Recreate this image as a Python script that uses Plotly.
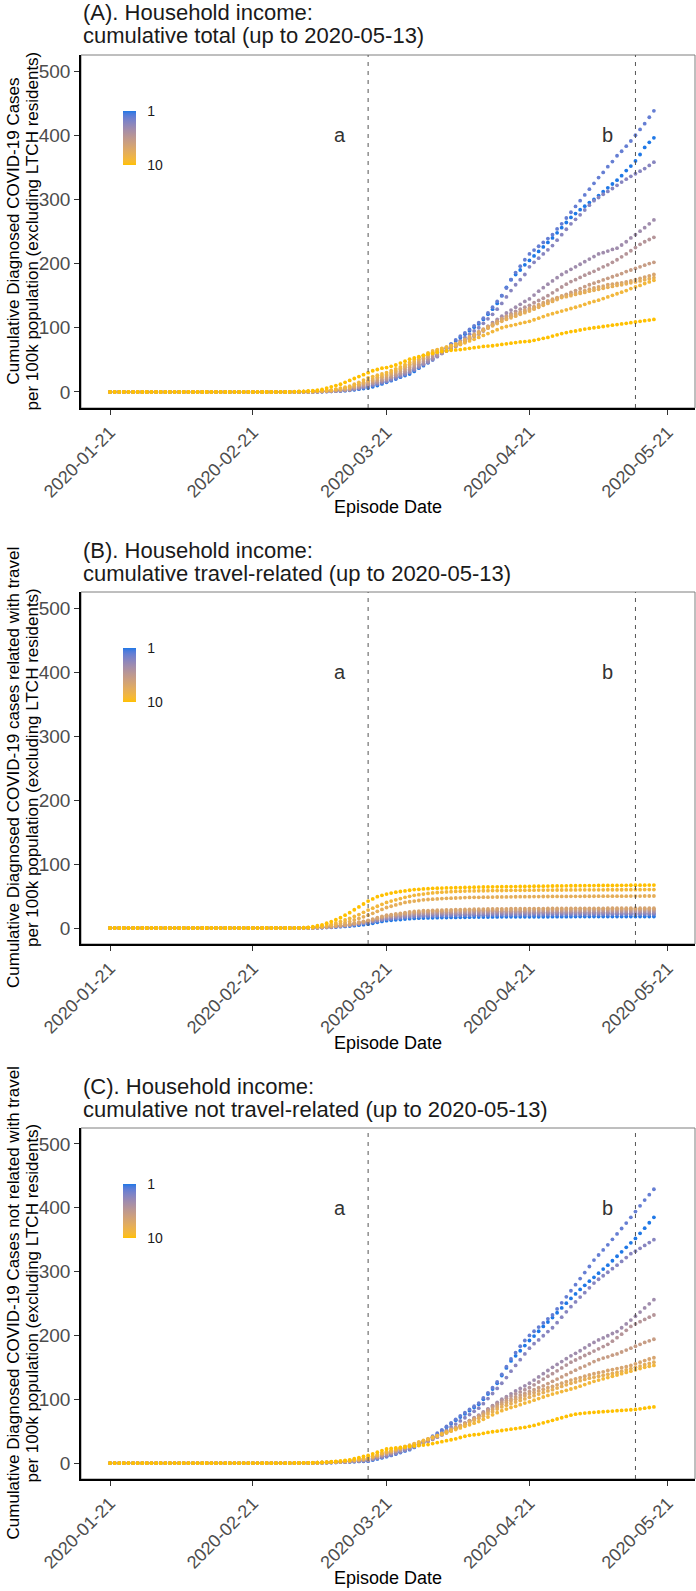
import plotly.graph_objects as go
import pandas as pd

# ---------------- data ----------------
dates = pd.date_range("2020-01-21", "2020-05-18", freq="D")
tick_dates = ["2020-01-21", "2020-02-21", "2020-03-21", "2020-04-21", "2020-05-21"]
y_ticks = [0, 100, 200, 300, 400, 500]
deciles = list(range(1, 11))
line_a_date = "2020-03-17"
line_b_date = "2020-05-14"
label_a_date = "2020-03-11"
label_b_date = "2020-05-08"

# Jan 21 - Feb 27: all series at zero
early = [0, 0, 0, 0, 0, 0, 0, 0, 0, 0,
         0, 0, 0, 0, 0, 0, 0, 0, 0, 0,
         0, 0, 0, 0, 0, 0, 0, 0, 0, 0,
         0, 0, 0, 0, 0, 0, 0, 0]

# ---- Panel A: cumulative total (values from Feb 28 to May 18) ----
A1 = early + [0, 0, 0, 0.1, 0.1, 0.2, 0.3, 0.4, 0.6, 0.8,
              1, 1.3, 1.6, 2, 2.5, 3.4, 4.3, 5.2, 6, 8,
              10, 12.5, 15, 17.5, 20, 23, 25.5, 28, 32, 37,
              41, 45.5, 50, 56, 62, 68, 74, 79.5, 85, 90,
              95.5, 101, 106, 113, 121, 129, 138, 150, 163, 175,
              183, 190, 198, 205, 212, 219, 226, 233, 240, 248,
              256, 264, 272, 278, 284, 289.5, 295, 300, 306, 312,
              318, 324, 330, 337, 345, 352, 360, 370, 381, 389,
              396]
A2 = early + [0, 0, 0, 0.1, 0.1, 0.2, 0.3, 0.5, 0.7, 0.9,
              1.1, 1.5, 1.9, 2.4, 3, 4, 5, 6.5, 8, 10,
              12, 14, 16, 18.5, 21, 24, 27, 30, 34, 38.5,
              43, 47.5, 52, 57.5, 63, 69, 75, 81, 87, 92,
              97.5, 103, 108, 115, 123, 132, 141, 150, 162, 175,
              186, 196, 206, 215, 221, 227, 233, 239, 245, 254,
              262, 271, 280, 289, 298, 307, 316, 325, 334, 342,
              351, 359, 368, 375, 383, 391, 400, 409, 418, 428,
              438]
A3 = early + [0, 0, 0, 0.1, 0.1, 0.2, 0.3, 0.4, 0.6, 0.8,
              1, 1.5, 2, 2.5, 3, 4.5, 6, 7.5, 9, 11,
              13, 15, 17, 20, 23, 25.5, 28, 31, 35, 39,
              42.5, 46, 50, 55, 60, 65, 70, 75, 80, 85,
              90, 95, 100, 107, 114, 121, 129, 138, 148, 158,
              167, 175, 183, 195, 202, 208.5, 215, 221.5, 228, 236.5,
              245, 253.5, 262, 269, 276, 283.5, 291, 298, 303, 308,
              312.5, 317, 322, 327, 331.5, 336, 340, 344, 348, 353,
              358]
A4 = early + [0, 0, 0.1, 0.1, 0.2, 0.3, 0.4, 0.6, 0.8, 1,
              1.3, 1.8, 2.3, 2.9, 3.5, 5.3, 7, 9, 11, 13,
              15, 17, 19, 22, 25, 27.5, 30, 33, 37, 41,
              44.5, 48, 52, 56, 60, 63.5, 67, 71, 75, 79,
              83.5, 88, 92, 97, 102, 108, 113, 118, 123, 127.5,
              132, 136.5, 141, 145, 151, 157, 162.5, 168, 173, 178,
              183, 187, 191, 195, 199, 203, 207, 211, 215, 217,
              219.5, 222, 224, 229, 234, 240, 245, 250.5, 256, 262,
              268]
A5 = early + [0, 0, 0.1, 0.2, 0.3, 0.4, 0.5, 0.7, 0.9, 1.2,
              1.5, 2, 2.6, 3.3, 4, 6, 8, 10, 12, 14,
              16, 18, 20, 23, 26, 29, 32, 35, 39, 43,
              47, 51, 55, 58, 61, 64.5, 68, 71, 74, 78,
              82, 86, 90, 95, 100, 105, 110, 115, 118.5, 122,
              125.5, 129, 132, 135, 139, 142.5, 146, 150, 154.5, 159,
              163.5, 168, 172, 175, 178.5, 182, 185, 188, 191.5, 195,
              198, 202, 206, 210.5, 215, 220, 225, 230, 234, 237.5,
              241]
A6 = early + [0, 0, 0.1, 0.2, 0.3, 0.4, 0.5, 0.8, 1.1, 1.4,
              1.8, 2.5, 3.2, 4, 5, 7, 9.5, 12, 14, 16,
              18, 20, 22, 25, 28, 31.5, 35, 38, 42, 46,
              50, 54, 58, 61, 64, 67, 70, 73, 76, 80,
              84, 88, 92, 96, 100, 104, 108, 112, 115, 117.5,
              120, 122.5, 125.5, 128, 131, 134, 137, 140, 143, 146,
              149, 152, 155, 158, 161, 164, 167, 169.5, 172, 174.5,
              177, 179.5, 182, 184.5, 187.5, 190, 192.5, 195, 197.5, 200,
              202]
A7 = early + [0, 0, 0.1, 0.2, 0.4, 0.5, 0.7, 1, 1.3, 1.6,
              2, 3, 4, 5, 6, 8.5, 11, 13.5, 16, 18,
              20.5, 23, 25, 28, 31, 34.5, 38, 41, 44.5, 48.5,
              52.5, 56, 60, 63, 66, 69, 72, 75, 78, 82,
              86, 90, 94, 98, 102, 106, 110, 114, 117, 119.5,
              122, 124.5, 127.5, 130, 133, 136, 139, 142, 144.5, 147,
              149.5, 151, 152, 154, 156, 158, 160, 162, 163.5, 165,
              167, 168, 169, 170, 171.5, 173, 175, 177, 179, 181,
              183]
A8 = early + [0, 0, 0.2, 0.3, 0.5, 0.6, 0.8, 1.2, 1.6, 2,
              2.5, 3.5, 4.5, 5.8, 7, 9.5, 12, 15, 18, 20.5,
              23, 25, 27, 30, 33, 36.5, 40, 43, 47, 51,
              55, 58.5, 62, 65, 67.5, 70, 72.5, 75, 77, 80.5,
              84.5, 88, 92, 96, 99.5, 103, 106.5, 110, 113, 115.5,
              118, 121, 123.5, 126, 129, 132, 135, 138, 141, 144,
              147, 148.5, 150, 152, 153.5, 155, 157, 158.5, 160, 161.5,
              163, 164.5, 166, 167, 168.5, 170, 171.5, 173, 175, 176.5,
              178]
A9 = early + [0, 0, 0.2, 0.4, 0.6, 0.8, 1, 1.5, 2, 2.5,
              3, 4.5, 6, 7.5, 9, 12, 15, 18.5, 22, 24,
              26, 28, 30, 33, 36, 39, 42.5, 46, 50, 54,
              57, 61, 64, 66, 68, 70, 71.5, 73, 74, 76.5,
              79.5, 82, 85, 88, 91, 94, 97, 100, 102, 103.5,
              105, 107, 108.5, 110, 112.5, 115, 117.5, 120, 122, 124,
              126, 128, 130, 132, 134, 136.5, 139, 141, 143, 145.5,
              148, 150.5, 153, 155.5, 158, 161, 163.5, 166, 169, 171.5,
              174]
A10 = early + [0, 0.2, 0.5, 0.8, 1, 1.5, 2, 3, 4, 6,
               8, 10, 12, 15, 18, 21, 24, 27, 30, 33,
               35, 37, 38, 40, 42, 45, 48, 51, 53, 55,
               57, 59, 60, 62, 63, 64, 65, 65.5, 66, 67,
               68, 69, 70, 71, 71.5, 72, 73, 74, 75, 76,
               77, 78, 78.5, 79, 80.5, 82, 83.5, 85, 87, 89,
               91, 92.5, 94, 95, 96.5, 98, 99, 100, 101, 102,
               103, 104, 105, 106, 107, 108, 109, 110, 111, 112,
               113]

# ---- Panel B: cumulative travel-related ----
B1 = early + [0, 0, 0, 0, 0.1, 0.1, 0.2, 0.4, 0.6, 0.9,
              1.2, 1.6, 2, 2.5, 3, 3.7, 4.4, 5.2, 6, 7.4,
              8.8, 10.2, 11.5, 12.1, 12.7, 13.3, 13.9, 14.5, 14.9, 15.3,
              15.6, 15.8, 16, 16.1, 16.3, 16.4, 16.5, 16.6, 16.7, 16.8,
              16.9, 17, 17.1, 17.2, 17.2, 17.3, 17.3, 17.4, 17.4, 17.4,
              17.5, 17.5, 17.5, 17.5, 17.6, 17.6, 17.6, 17.6, 17.7, 17.7,
              17.7, 17.7, 17.7, 17.8, 17.8, 17.8, 17.8, 17.8, 17.8, 17.9,
              17.9, 17.9, 17.9, 17.9, 17.9, 17.9, 18, 18, 18, 18,
              18]
B2 = early + [0, 0, 0, 0.1, 0.1, 0.2, 0.3, 0.5, 0.8, 1.2,
              1.6, 2.1, 2.7, 3.3, 4, 5, 6, 7, 8, 9.4,
              10.8, 12.2, 13.5, 14.2, 14.9, 15.5, 16.3, 17, 17.5, 17.9,
              18.3, 18.5, 18.7, 18.8, 19, 19.1, 19.3, 19.4, 19.5, 19.6,
              19.7, 19.9, 20, 20.1, 20.1, 20.2, 20.2, 20.3, 20.3, 20.3,
              20.4, 20.4, 20.4, 20.5, 20.5, 20.5, 20.5, 20.6, 20.6, 20.6,
              20.6, 20.7, 20.7, 20.7, 20.7, 20.7, 20.8, 20.8, 20.8, 20.8,
              20.8, 20.9, 20.9, 20.9, 20.9, 20.9, 21, 21, 21, 21,
              21]
B3 = early + [0, 0, 0, 0.1, 0.1, 0.2, 0.4, 0.6, 0.9, 1.3,
              1.7, 2.3, 3, 3.7, 4.4, 5.5, 6.6, 7.7, 8.8, 10.3,
              11.8, 13.3, 14.8, 15.6, 16.3, 17, 17.8, 18.6, 19.1, 19.6,
              20, 20.3, 20.5, 20.6, 20.8, 21, 21.1, 21.2, 21.4, 21.5,
              21.6, 21.8, 21.9, 22, 22, 22.1, 22.2, 22.2, 22.3, 22.3,
              22.3, 22.4, 22.4, 22.4, 22.5, 22.5, 22.5, 22.6, 22.6, 22.6,
              22.6, 22.7, 22.7, 22.7, 22.7, 22.8, 22.8, 22.8, 22.8, 22.8,
              22.9, 22.9, 22.9, 22.9, 22.9, 22.9, 23, 23, 23, 23,
              23]
B4 = early + [0, 0, 0, 0.1, 0.1, 0.2, 0.4, 0.6, 1, 1.4,
              1.9, 2.6, 3.2, 4, 4.8, 6, 7.2, 8.4, 9.6, 11.2,
              12.9, 14.5, 16.1, 17, 17.8, 18.5, 19.4, 20.2, 20.8, 21.3,
              21.8, 22, 22.2, 22.4, 22.6, 22.8, 23, 23.1, 23.3, 23.4,
              23.5, 23.7, 23.8, 23.9, 24, 24, 24.1, 24.1, 24.2, 24.2,
              24.3, 24.3, 24.4, 24.4, 24.4, 24.5, 24.5, 24.5, 24.5, 24.6,
              24.6, 24.6, 24.7, 24.7, 24.7, 24.7, 24.8, 24.8, 24.8, 24.8,
              24.8, 24.9, 24.9, 24.9, 24.9, 24.9, 25, 25, 25, 25,
              25]
B5 = early + [0, 0, 0, 0.1, 0.2, 0.3, 0.4, 0.7, 1.1, 1.6,
              2.1, 2.8, 3.5, 4.3, 5.2, 6.5, 7.8, 9.1, 10.4, 12.1,
              13.9, 15.7, 17.4, 18.3, 19.2, 20, 20.9, 21.8, 22.4, 23,
              23.5, 23.8, 24, 24.2, 24.4, 24.6, 24.8, 25, 25.1, 25.3,
              25.4, 25.6, 25.7, 25.8, 25.9, 26, 26, 26.1, 26.1, 26.2,
              26.2, 26.3, 26.3, 26.4, 26.4, 26.4, 26.5, 26.5, 26.5, 26.6,
              26.6, 26.6, 26.7, 26.7, 26.7, 26.7, 26.8, 26.8, 26.8, 26.8,
              26.8, 26.9, 26.9, 26.9, 26.9, 26.9, 27, 27, 27, 27,
              27]
B6 = early + [0, 0, 0, 0.1, 0.2, 0.3, 0.5, 0.8, 1.2, 1.7,
              2.3, 3, 3.8, 4.7, 5.6, 7, 8.4, 9.8, 11.2, 13,
              15, 17, 18.7, 19.7, 20.6, 21.5, 22.5, 23.4, 24.1, 24.8,
              25.2, 25.5, 25.8, 26, 26.2, 26.4, 26.6, 26.8, 27, 27.1,
              27.3, 27.5, 27.6, 27.7, 27.8, 27.9, 28, 28, 28.1, 28.1,
              28.2, 28.2, 28.3, 28.3, 28.4, 28.4, 28.4, 28.5, 28.5, 28.5,
              28.6, 28.6, 28.6, 28.7, 28.7, 28.7, 28.8, 28.8, 28.8, 28.8,
              28.9, 28.9, 28.9, 28.9, 29, 29, 29, 29, 29, 29,
              29]
B7 = early + [0, 0, 0, 0.1, 0.2, 0.3, 0.5, 0.9, 1.3, 1.9,
              2.5, 3.3, 4.2, 5.1, 6, 7.5, 9, 10.5, 12, 14,
              16, 18, 20, 21, 22, 23, 24, 25, 25.8, 26.5,
              27, 27.3, 27.6, 27.8, 28, 28.2, 28.4, 28.6, 28.8, 29,
              29.2, 29.4, 29.5, 29.6, 29.7, 29.8, 29.9, 30, 30, 30.1,
              30.1, 30.2, 30.2, 30.3, 30.3, 30.4, 30.4, 30.5, 30.5, 30.5,
              30.6, 30.6, 30.6, 30.7, 30.7, 30.7, 30.8, 30.8, 30.8, 30.8,
              30.9, 30.9, 30.9, 30.9, 31, 31, 31, 31, 31, 31,
              31]
B8 = early + [0, 0, 0.1, 0.2, 0.3, 0.5, 0.8, 1.5, 2.2, 3,
              4, 5.5, 7, 8.5, 10, 12.5, 15, 17.5, 20, 23,
              26, 29, 32, 34, 36, 38, 40, 41, 42, 43,
              44, 44.5, 45, 45.5, 46, 46.3, 46.6, 46.9, 47.2, 47.5,
              47.7, 47.9, 48, 48.1, 48.2, 48.3, 48.4, 48.5, 48.6, 48.7,
              48.8, 48.9, 49, 49, 49.1, 49.1, 49.2, 49.2, 49.3, 49.3,
              49.4, 49.4, 49.5, 49.5, 49.5, 49.6, 49.6, 49.6, 49.7, 49.7,
              49.7, 49.8, 49.8, 49.8, 49.8, 49.9, 49.9, 49.9, 50, 50,
              50]
B9 = early + [0, 0, 0.1, 0.2, 0.4, 0.7, 1, 2, 3, 4.5,
              6, 8, 10, 12.5, 15, 18, 21, 24.5, 28, 31,
              34, 37, 40, 42, 44, 46, 48, 49.5, 51, 52,
              53, 54, 54.8, 55.5, 56, 56.4, 56.8, 57.1, 57.4, 57.7,
              57.9, 58, 58.1, 58.2, 58.3, 58.4, 58.5, 58.6, 58.7, 58.8,
              58.9, 59, 59, 59.1, 59.1, 59.2, 59.2, 59.3, 59.3, 59.4,
              59.4, 59.5, 59.5, 59.5, 59.6, 59.6, 59.6, 59.7, 59.7, 59.7,
              59.8, 59.8, 59.8, 59.8, 59.9, 59.9, 59.9, 59.9, 60, 60,
              60]
B10 = early + [0, 0, 0.1, 0.3, 0.5, 1, 2, 3.5, 5, 7.5,
               10, 13, 16, 20, 24, 28.5, 33, 37.5, 42, 45.5,
               49, 51, 53, 54.5, 56, 57, 58, 59, 60, 60.5,
               61, 61.5, 62, 62.2, 62.4, 62.6, 62.8, 63, 63.2, 63.4,
               63.6, 63.8, 64, 64.1, 64.2, 64.3, 64.4, 64.5, 64.6, 64.7,
               64.8, 64.9, 65, 65.1, 65.2, 65.3, 65.4, 65.5, 65.6, 65.7,
               65.8, 65.9, 66, 66, 66.1, 66.2, 66.3, 66.3, 66.4, 66.5,
               66.5, 66.6, 66.6, 66.7, 66.7, 66.8, 66.8, 66.9, 66.9, 67,
               67]

# ---- Panel C: cumulative not travel-related ----
C1 = early + [0, 0, 0, 0, 0.1, 0.1, 0.2, 0.3, 0.4, 0.6,
              0.8, 1, 1.3, 1.6, 1.9, 2.2, 2.5, 2.8, 3, 4.8,
              6.5, 8.2, 10, 12, 14, 16.5, 19, 21, 24.5, 28.5,
              32, 36, 40, 45, 50.5, 56, 61.5, 67, 72, 77,
              82, 87, 92, 100, 108, 116, 125, 137, 149, 160,
              168, 176, 184, 192, 199, 206.5, 214, 221, 228, 235.5,
              243, 250.5, 258, 265, 272, 278.5, 285, 291, 297.5, 304,
              310, 317, 324, 331, 338, 345, 352, 360, 368, 376.5,
              385]
C2 = early + [0, 0, 0, 0, 0.1, 0.1, 0.2, 0.3, 0.5, 0.7,
              0.9, 1.2, 1.5, 1.8, 2.1, 2.5, 2.9, 3.2, 3.5, 5.3,
              7, 8.8, 10.5, 12.5, 14.5, 17, 19.5, 22, 25.5, 29.5,
              33.5, 37.5, 42, 47, 52, 57.5, 63, 68.5, 74, 79,
              84, 89, 94, 102, 110, 118, 127, 139, 151, 163,
              173, 183, 192, 200, 206.5, 213, 219.5, 226, 232, 241.5,
              251, 260.5, 270, 279.5, 289, 298.5, 308, 318, 326, 334,
              342, 350.5, 359, 367.5, 376, 385, 394, 403, 412, 420.5,
              429]
C3 = early + [0, 0, 0, 0.1, 0.1, 0.1, 0.2, 0.3, 0.5, 0.7,
              0.9, 1.2, 1.5, 1.8, 2.2, 2.6, 3, 3.5, 4, 5.7,
              7.4, 9.2, 11, 13, 15, 17.5, 20, 22, 25, 28,
              31.5, 34.5, 38, 42.5, 47, 51.5, 56.5, 61, 66, 71,
              76, 81, 86, 93, 101, 109, 117, 125, 134, 144,
              153, 162, 171, 180, 187, 193, 199.5, 206, 212, 220,
              228.5, 237, 245, 252.5, 260, 267, 274.5, 282, 288, 293.5,
              299, 304.5, 310, 316, 322, 328, 332, 336.5, 341, 345.5,
              350]
C4 = early + [0, 0, 0, 0.1, 0.1, 0.2, 0.3, 0.4, 0.6, 0.8,
              1, 1.3, 1.7, 2.1, 2.6, 3.2, 3.8, 4.4, 5, 7,
              9, 11, 13, 15, 17.5, 19.5, 22, 24, 26.5, 29,
              31.5, 34, 37, 40.5, 44, 47.5, 51, 54.5, 58, 62.5,
              66.5, 71, 75, 80, 85, 90, 95, 100, 104, 108.5,
              113, 117, 121, 125, 130, 135, 140, 145, 150, 154.5,
              159, 163.5, 168, 172, 176, 180.5, 185, 189, 193, 196,
              199.5, 203, 206, 212, 218, 224, 230, 236.5, 243, 249.5,
              256]
C5 = early + [0, 0, 0, 0.1, 0.1, 0.2, 0.3, 0.5, 0.7, 0.9,
              1.1, 1.4, 1.8, 2.2, 2.7, 3.3, 3.9, 4.5, 5, 7.3,
              9.5, 11.8, 14, 16, 18.5, 20.5, 23, 25, 27.5, 30,
              32.5, 35, 38, 41, 44.5, 48, 51, 54.5, 58, 62,
              66, 70, 74, 79, 84, 89, 93.5, 98, 101.5, 105,
              108.5, 111.5, 115, 118, 122.5, 127, 131.5, 136, 140, 144.5,
              149, 153.5, 158, 161.5, 165, 168.5, 172, 175.5, 179, 182.5,
              186, 191, 196.5, 202, 208, 214, 218, 221.5, 225, 228.5,
              232]
C6 = early + [0, 0, 0, 0.1, 0.2, 0.3, 0.4, 0.5, 0.7, 0.9,
              1.2, 1.5, 1.9, 2.4, 3, 3.8, 4.5, 5.3, 6, 8.2,
              10.5, 12.8, 15, 17, 19.5, 21.5, 24, 26, 28.5, 31,
              34, 37, 40, 43, 46.5, 50, 53, 56, 59, 62.5,
              66.5, 70, 74, 78, 82.5, 86.5, 91, 95, 98, 100.5,
              103.5, 106.5, 109, 112, 115, 118, 121, 124.5, 128, 131.5,
              135, 138.5, 142, 145.5, 149, 152, 155.5, 159, 162, 164.5,
              166.5, 169, 171, 174, 177, 180, 183, 186, 189, 191.5,
              194]
C7 = early + [0, 0, 0.1, 0.1, 0.2, 0.3, 0.4, 0.5, 0.7, 1,
              1.3, 1.7, 2.1, 2.7, 3.3, 4.3, 5.2, 6.1, 7, 9.3,
              11.6, 14, 16, 18, 20.5, 23, 25, 27, 29.5, 32,
              34.5, 37, 40, 43, 46, 49, 52, 55, 58, 61.5,
              65, 68.5, 72, 76, 80, 84, 88, 92, 95, 97.5,
              100, 102.5, 105.5, 108, 110.5, 113, 115.5, 118, 120, 122.5,
              125, 127.5, 130, 132, 134, 136, 138, 140, 141.5, 143,
              145, 146.5, 148, 149.5, 151, 153, 155.5, 158, 160.5, 163,
              165]
C8 = early + [0, 0, 0.1, 0.1, 0.2, 0.3, 0.4, 0.6, 0.8, 1.1,
              1.4, 1.8, 2.3, 3, 3.7, 4.8, 6, 7, 8, 10,
              12.5, 15, 17, 19, 21, 23, 25, 27, 29.5, 32,
              34.5, 37, 40, 43, 46, 48.5, 51.5, 54, 57, 60,
              63.5, 67, 70, 73.5, 77, 80.5, 84.5, 88, 90.5, 93,
              95.5, 98, 100.5, 103, 105.5, 108, 110.5, 113, 115, 117.5,
              120, 122.5, 125, 127, 129, 131, 133, 134.5, 136, 137.5,
              139, 140.5, 142, 144, 146, 148, 150, 152, 154, 156,
              158]
C9 = early + [0, 0, 0.1, 0.1, 0.2, 0.3, 0.4, 0.6, 0.9, 1.2,
              1.5, 2, 2.5, 3.2, 4, 5, 6, 7, 8, 10.5,
              13, 15.5, 18, 20, 22, 24, 26, 28, 30.5, 33,
              35.5, 38, 40, 42.5, 45, 47.5, 50, 52.5, 55, 57.5,
              60, 62.5, 65, 68.5, 72, 75.5, 79, 82, 84.5, 87,
              89, 91.5, 94, 96, 98.5, 101, 103.5, 106, 108, 110,
              112, 114, 116, 118, 120.5, 123, 125.5, 128, 130, 132,
              134, 136, 138, 140, 142, 144, 146, 148, 150, 151.5,
              153]
C10 = early + [0, 0, 0.1, 0.2, 0.3, 0.4, 0.5, 0.8, 1.1, 1.5,
               2, 2.7, 3.4, 4.2, 5, 6.8, 8.5, 10.3, 12, 14.5,
               17, 19.5, 22, 23, 23.8, 24.5, 25.2, 26, 26.8, 27.5,
               28.2, 29, 30.5, 32, 33.5, 35, 36.5, 38, 40, 42,
               43.5, 44.3, 45, 46.5, 48, 49, 50, 51, 52, 53,
               54, 55, 56, 57.5, 59, 61, 63, 65, 67, 69,
               71, 73, 75, 76.5, 77.5, 78.3, 79, 79.5, 80, 80.5,
               81, 81.5, 82, 82.5, 83, 83.5, 84, 85, 86, 87,
               88]

panel_A = [A1, A2, A3, A4, A5, A6, A7, A8, A9, A10]
panel_B = [B1, B2, B3, B4, B5, B6, B7, B8, B9, B10]
panel_C = [C1, C2, C3, C4, C5, C6, C7, C8, C9, C10]

titles = [
    ("(A). Household income:", "cumulative total (up to 2020-05-13)"),
    ("(B). Household income:", "cumulative travel-related (up to 2020-05-13)"),
    ("(C). Household income:", "cumulative not travel-related (up to 2020-05-13)"),
]
y_titles = [
    ("Cumulative Diagnosed COVID-19 Cases", "per 100k population (excluding LTCH residents)"),
    ("Cumulative Diagnosed COVID-19 cases related with travel", "per 100k population (excluding LTCH residents)"),
    ("Cumulative Diagnosed COVID-19 Cases not related with travel", "per 100k population (excluding LTCH residents)"),
]
x_title = "Episode Date"

bad = [(n, len(s)) for n, p in zip("ABC", [panel_A, panel_B, panel_C]) for s in p if len(s) != len(dates)]
assert not bad, bad

# ---------------- colours (Lab gradient, like ggplot) ----------------
LOW, HIGH = "#1F78E6", "#FFC000"


def _lin(c):
    c = c / 255
    return c / 12.92 if c <= 0.04045 else ((c + 0.055) / 1.055) ** 2.4


def _delin(c):
    c = min(1.0, max(0.0, c))
    c = 12.92 * c if c <= 0.0031308 else 1.055 * c ** (1 / 2.4) - 0.055
    return max(0, min(255, round(c * 255)))


def hex2lab(h):
    r, g, b = [_lin(int(h[i:i + 2], 16)) for i in (1, 3, 5)]
    X = 0.4124 * r + 0.3576 * g + 0.1805 * b
    Y = 0.2126 * r + 0.7152 * g + 0.0722 * b
    Z = 0.0193 * r + 0.1192 * g + 0.9505 * b
    f = lambda t: t ** (1 / 3) if t > 0.008856 else 7.787 * t + 16 / 116
    fx, fy, fz = f(X / 0.95047), f(Y), f(Z / 1.08883)
    return (116 * fy - 16, 500 * (fx - fy), 200 * (fy - fz))


def lab2hex(L, a, b):
    fy = (L + 16) / 116
    fx = fy + a / 500
    fz = fy - b / 200
    finv = lambda t: t ** 3 if t ** 3 > 0.008856 else (t - 16 / 116) / 7.787
    X, Y, Z = 0.95047 * finv(fx), finv(fy), 1.08883 * finv(fz)
    r = 3.2406 * X - 1.5372 * Y - 0.4986 * Z
    g = -0.9689 * X + 1.8758 * Y + 0.0415 * Z
    bb = 0.0557 * X - 0.2040 * Y + 1.0570 * Z
    return "#%02x%02x%02x" % (_delin(r), _delin(g), _delin(bb))


lo, hi = hex2lab(LOW), hex2lab(HIGH)


def mix(t):
    return lab2hex(*[lo[i] + t * (hi[i] - lo[i]) for i in range(3)])


colors = [mix((k - 1) / 9) for k in deciles]
cscale = [[i / 20, mix(1 - i / 20)] for i in range(21)]

# ---------------- layout helpers ----------------
W, H = 696, 1591
FONT = "Liberation Sans, Arial, Helvetica, sans-serif"
X_LEFT, X_RIGHT = 81, 695
frames = [(55, 408), (592, 944), (1128, 1479)]


def px(x):
    return x / W


def py(y):
    return 1 - y / H


fig = go.Figure()
annotations = []
shapes = []
layout_axes = {}

for p, series in enumerate([panel_A, panel_B, panel_C]):
    top, bot = frames[p]
    sfx = "" if p == 0 else str(p + 1)
    xa, ya = "x" + sfx, "y" + sfx
    for k, vals in enumerate(series):
        fig.add_trace(go.Scatter(
            x=dates, y=vals, mode="markers", xaxis=xa, yaxis=ya,
            marker=dict(size=3.8, color=colors[k], line=dict(width=0)),
            showlegend=False, hoverinfo="skip"))
    fig.add_trace(go.Scatter(
        x=[None], y=[None], mode="markers", xaxis=xa, yaxis=ya, showlegend=False,
        marker=dict(color=[-1], cmin=-10, cmax=-1, colorscale=cscale, showscale=True,
                    colorbar=dict(x=px(123), xanchor="left", xpad=0, ypad=0,
                                  y=py(top + 83), yanchor="middle",
                                  thickness=13, thicknessmode="pixels",
                                  len=54, lenmode="pixels", outlinewidth=0,
                                  tickvals=[-1, -10], ticktext=["1", "10"],
                                  ticks="outside", ticklen=9, tickcolor="rgba(0,0,0,0)",
                                  tickfont=dict(size=14, color="#1a1a1a", family=FONT)))))

    layout_axes["xaxis" + sfx] = dict(
        domain=[px(X_LEFT), px(X_RIGHT)], anchor=ya, automargin=False,
        range=["2020-01-14 17:00", "2020-05-26 22:00"],
        tickvals=tick_dates, ticktext=tick_dates, tickangle=-45,
        tickfont=dict(size=18, color="#4d4d4d", family=FONT),
        ticks="outside", ticklen=5, tickcolor="#333333", tickwidth=1,
        showline=True, linecolor="black", linewidth=1.8, mirror=False,
        showgrid=False, zeroline=False)
    layout_axes["yaxis" + sfx] = dict(
        domain=[py(bot), py(top)], anchor=xa, automargin=False,
        range=[-25, 525], tickvals=y_ticks,
        tickfont=dict(size=19, color="#4d4d4d", family=FONT),
        ticks="outside", ticklen=5, tickcolor="#333333", tickwidth=1,
        showline=True, linecolor="black", linewidth=1.8, mirror=False,
        showgrid=False, zeroline=False)

    shapes.append(dict(type="rect", xref=xa + " domain", yref=ya + " domain",
                       x0=0, x1=1, y0=0, y1=1, line=dict(color="#7f7f7f", width=1),
                       layer="below"))
    for d in (line_a_date, line_b_date):
        shapes.append(dict(type="line", xref=xa, yref=ya + " domain",
                           x0=d, x1=d, y0=0, y1=1,
                           line=dict(color="#555555", width=1, dash="4px,5px")))
    for txt, d in (("a", label_a_date), ("b", label_b_date)):
        annotations.append(dict(text=txt, x=d, y=400, xref=xa, yref=ya, showarrow=False,
                                font=dict(size=20, color="#333333", family=FONT)))
    annotations.append(dict(text=titles[p][0], x=px(81), y=py(top - 42), xref="paper", yref="paper",
                            xanchor="left", yanchor="middle", showarrow=False,
                            font=dict(size=22, color="#1a1a1a", family=FONT)))
    annotations.append(dict(text=titles[p][1], x=px(81), y=py(top - 19), xref="paper", yref="paper",
                            xanchor="left", yanchor="middle", showarrow=False,
                            font=dict(size=22, color="#1a1a1a", family=FONT)))
    yc = (top + bot) / 2
    for txt, xc in ((y_titles[p][0], 13), (y_titles[p][1], 32)):
        annotations.append(dict(text=txt, x=px(xc), y=py(yc), xref="paper", yref="paper",
                                xanchor="center", yanchor="middle", textangle=-90,
                                showarrow=False, font=dict(size=17, color="black", family=FONT)))
    annotations.append(dict(text=x_title, x=px((X_LEFT + X_RIGHT) / 2), y=py(bot + 99),
                            xref="paper", yref="paper", xanchor="center", yanchor="middle",
                            showarrow=False, font=dict(size=18, color="black", family=FONT)))

fig.update_layout(
    template="none",
    width=W, height=H, autosize=False,
    margin=dict(l=0, r=0, t=0, b=0, pad=0, autoexpand=False),
    paper_bgcolor="white", plot_bgcolor="white",
    font=dict(family=FONT),
    annotations=annotations, shapes=shapes,
    **layout_axes)

fig.write_html("out.html", config={"displayModeBar": False, "staticPlot": True},
               post_script="document.body.style.margin='0';document.body.style.overflow='hidden';")
